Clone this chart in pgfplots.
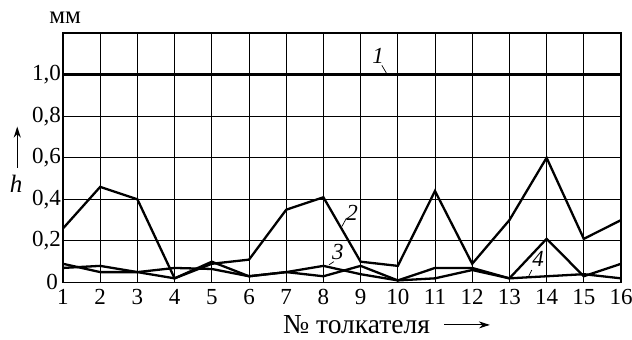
\documentclass[border=0pt]{standalone}
\usepackage{pgfplots}
\pgfplotsset{compat=1.18}
\usepackage{fontspec}
\setmainfont{Liberation Serif}
\usetikzlibrary{arrows.meta}
\newcommand{\bigf}{\fontsize{23}{27}\selectfont}

\begin{document}
\begin{tikzpicture}
\begin{axis}[name=ax, scale only axis, width=558pt, height=249.5pt,
  xmin=1, xmax=16, ymin=0, ymax=1.2,
  xtick={1,...,16}, ytick={0,0.2,0.4,0.6,0.8,1.0},
  yticklabels={\raisebox{2pt}{0\hspace{3pt}},{0,2},{0,4},{0,6},{0,8},{1,0}},
  grid=major, grid style={black, line width=1.0pt},
  axis line style={black, line width=1.5pt},
  major tick length=0pt,
  tick label style={font=\bigf},
  /pgf/number format/assume math mode=true,
  yticklabel style={xshift=1.5pt},
  xticklabel style={yshift=-3pt},
  clip=false,
]
\addplot[black, line width=3.2pt] coordinates {(1,1.0) (16,1.0)};
% series 2
\addplot[black, line width=2.3pt] coordinates {
(1,0.26) (2,0.46) (3,0.40) (4,0.02) (5,0.09) (6,0.11) (7,0.35) (8,0.41)
(9,0.10) (10,0.08) (11,0.44) (12,0.09) (13,0.30) (14,0.60) (15,0.21) (16,0.30)};
% series 3
\addplot[black, line width=2.3pt] coordinates {
(1,0.07) (2,0.08) (3,0.05) (4,0.02) (5,0.10) (6,0.03) (7,0.05) (8,0.08)
(9,0.04) (10,0.01) (11,0.07) (12,0.07) (13,0.02) (14,0.21) (15,0.03) (16,0.09)};
% series 4
\addplot[black, line width=2.3pt] coordinates {
(1,0.09) (2,0.05) (3,0.05) (4,0.07) (5,0.065) (6,0.03) (7,0.05) (8,0.03)
(9,0.08) (10,0.01) (11,0.02) (12,0.06) (13,0.02) (14,0.03) (15,0.04) (16,0.02)};

\node[font=\itshape\bigf] at (axis cs:9.47,1.09) {1};
\draw[line width=0.7pt] (axis cs:9.57,1.045) -- (axis cs:9.7,1.005);
\node[font=\itshape\bigf] at (axis cs:8.77,0.335) {2};
\draw[line width=0.7pt] (axis cs:8.62,0.31) -- (axis cs:8.5,0.27);
\node[font=\itshape\bigf] at (axis cs:8.39,0.147) {3};
\draw[line width=0.7pt] (axis cs:8.28,0.1) -- (axis cs:8.15,0.085);
\node[font=\itshape\bigf] at (axis cs:13.77,0.113) {4};
\draw[line width=0.7pt] (axis cs:13.6,0.06) -- (axis cs:13.52,0.03);

\node[font=\fontsize{25}{29}\selectfont] at (rel axis cs:0.004,1.06) {мм};
\node[font=\itshape\fontsize{25}{29}\selectfont] at (rel axis cs:-0.084,0.395) {h};
\draw[line width=1.4pt, -{Stealth[length=11pt,width=7pt]}] (rel axis cs:-0.082,0.459) -- (rel axis cs:-0.082,0.625);
\node[font=\fontsize{27.5}{31}\selectfont] at (rel axis cs:0.526,-0.17) {№ толкателя};
\draw[line width=1.1pt, -{Stealth[length=11pt,width=7pt]}] (rel axis cs:0.683,-0.17) -- (rel axis cs:0.765,-0.17);
\end{axis}
\pgfresetboundingbox
\path ([shift={(-63pt,-57.5pt)}]ax.south west) rectangle ([shift={(11pt,33pt)}]ax.north east);
\end{tikzpicture}
\end{document}
